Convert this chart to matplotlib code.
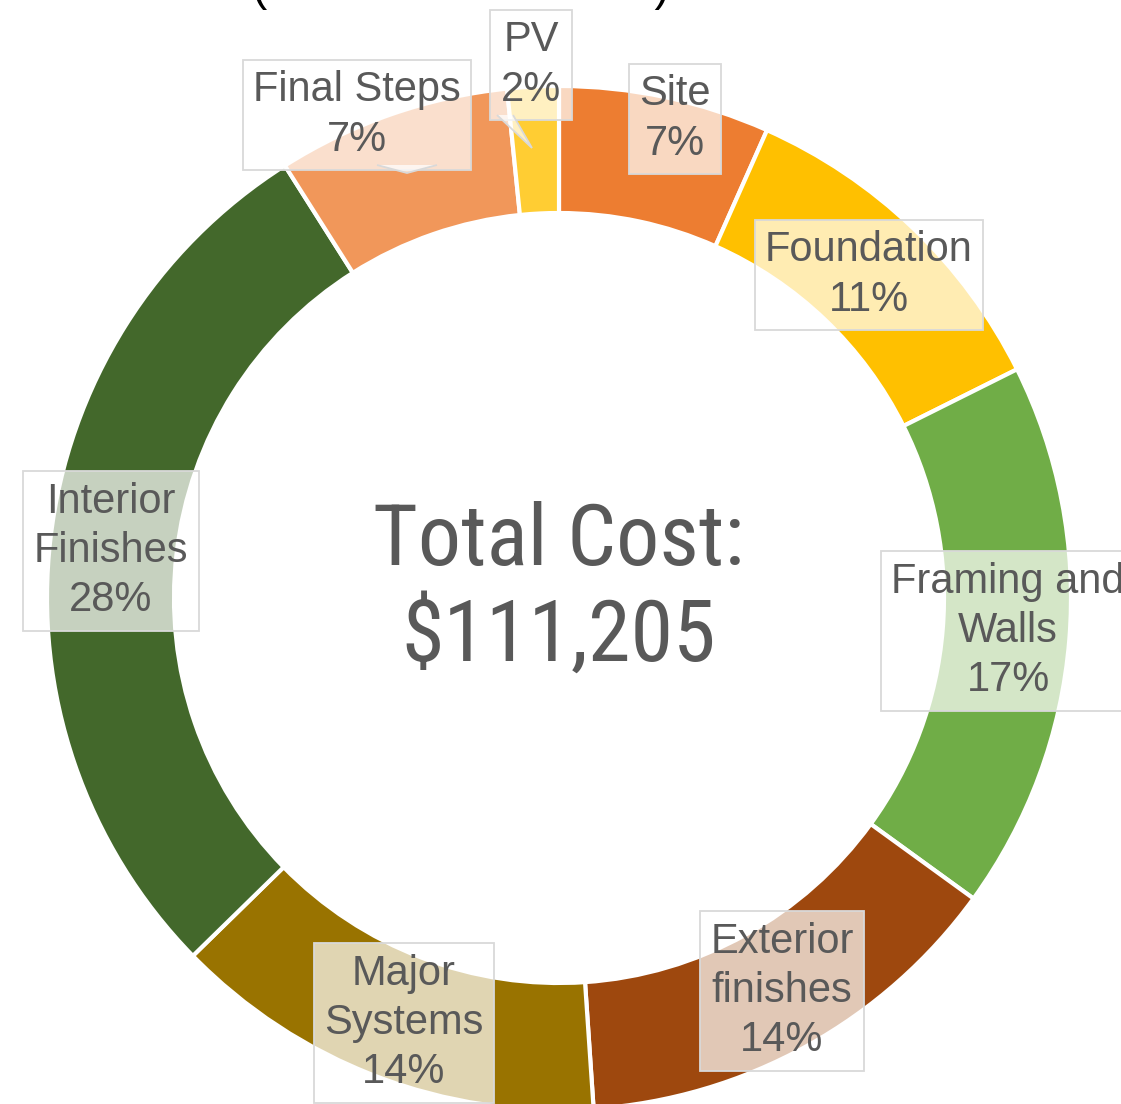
import matplotlib.pyplot as plt
from matplotlib.patches import Polygon

# cost breakdown of the build, clockwise from 12 o'clock
categories = ["Site", "Foundation", "Framing and\nWalls", "Exterior\nfinishes",
              "Major\nSystems", "Interior\nFinishes", "Final Steps", "PV"]
costs = [7405, 12200, 19300, 15500, 15300, 31500, 8200, 1800]
colors = ["#ED7D31", "#FFC000", "#70AD47", "#9E480E",
          "#997300", "#43682B", "#F1975A", "#FFCD33"]

# label centres in pixels (from top-left of the figure)
label_px = [(675, 119), (869, 275), (1008, 631), (782, 991),
            (404, 1023), (111, 551), (357, 115), (531, 65)]

W, H = 1121, 1104
CX, CY, R = 559, 598, 512
RING = 127


def to_x(px):
    return (px - CX) / R


def to_y(py):
    return (CY - py) / R


fig = plt.figure(figsize=(W / 100, H / 100), dpi=100)
ax = fig.add_axes([0, 0, 1, 1])

ax.pie(costs, colors=colors, startangle=90, counterclock=False, radius=1.0,
       wedgeprops=dict(width=RING / R, edgecolor="white", linewidth=3))
ax.set_xlim(-CX / R, (W - CX) / R)
ax.set_ylim(-(H - CY) / R, CY / R)
ax.set_aspect("equal")
ax.axis("off")

total = sum(costs)
box_fc = (1, 1, 1, 0.7)
box_ec = "#D9D9D9"

for name, cost, (px, py) in zip(categories, costs, label_px):
    pct = round(100 * cost / total)
    ax.text(to_x(px), to_y(py), f"{name}\n{pct}%", ha="center", va="center",
            multialignment="center", fontsize=30, linespacing=1.3,
            color="#595959", family="Liberation Sans",
            bbox=dict(boxstyle="square,pad=0.25", fc=box_fc, ec=box_ec, lw=1.3))

# callout pointers for the two small top slices
callouts = [
    [(377, 165), (407, 173), (437, 165)],   # Final Steps
    [(497, 115), (532, 148), (513, 115)],   # PV
]
for pts in callouts:
    ax.add_patch(Polygon([(to_x(x), to_y(y)) for x, y in pts], closed=False,
                         fc=box_fc, ec=box_ec, lw=1.3, zorder=3))

ax.text(0, to_y(589), f"Total Cost:\n${total:,}", ha="center", va="center",
        fontsize=62, linespacing=1.2, color="#595959",
        family=["Roboto Condensed", "DejaVu Sans"], fontstretch="condensed")

fig.text(461 / W, 1.0, "(Construction Costs)", ha="center", va="baseline",
         fontsize=33, color="black", family="Liberation Sans")

plt.savefig("out.png", dpi=100)
